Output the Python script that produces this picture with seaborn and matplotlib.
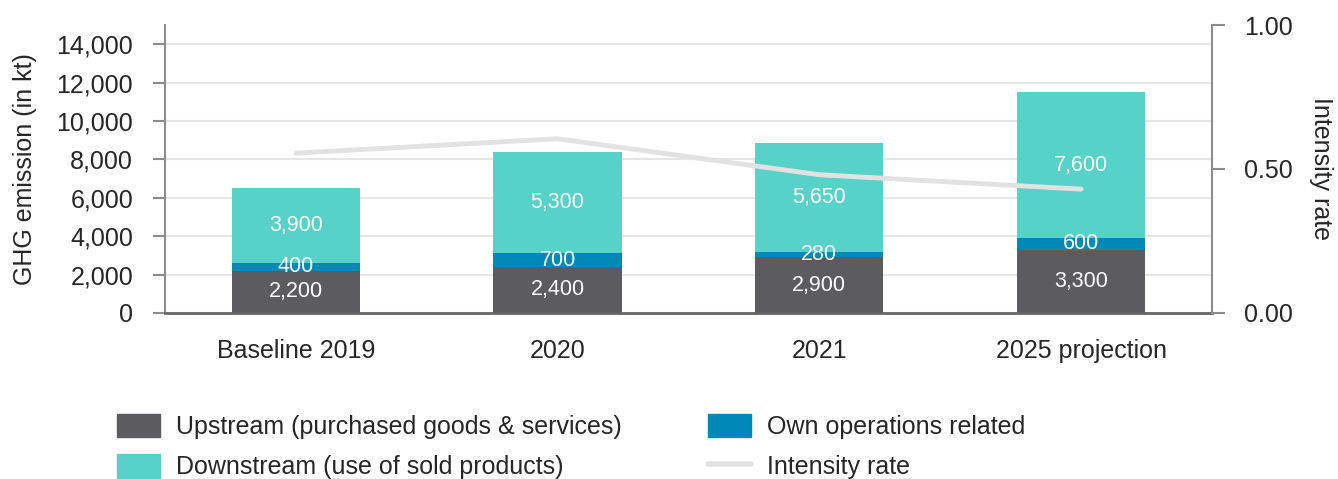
import matplotlib
matplotlib.use("Agg")
import matplotlib.pyplot as plt
import seaborn as sns
import numpy as np
from matplotlib.patches import Patch
from matplotlib.lines import Line2D

# data
categories = ['Baseline 2019', '2020', '2021', '2025 projection']
upstream = [2200, 2400, 2900, 3300]
own_ops = [400, 700, 280, 600]
downstream = [3900, 5300, 5650, 7600]
intensity = [0.555, 0.605, 0.48, 0.43]

c_up = '#5c5c60'
c_own = '#0089b7'
c_down = '#57d2c9'
c_line = '#e2e2e2'

sns.set_style('white')
plt.rcParams['font.family'] = ['Liberation Sans', 'DejaVu Sans']

fig = plt.figure(figsize=(13.38, 4.79), dpi=100)
ax = fig.add_axes([0.1233, 0.3466, 0.7825, 0.6012])

bottom2 = np.array(upstream)
bottom3 = bottom2 + np.array(own_ops)
kw = dict(width=0.49, ax=ax, saturation=1, linewidth=0)
sns.barplot(x=categories, y=upstream, color=c_up, **kw)
sns.barplot(x=categories, y=own_ops, bottom=bottom2, color=c_own, **kw)
sns.barplot(x=categories, y=downstream, bottom=bottom3, color=c_down, **kw)

# segment labels
for i in range(len(categories)):
    segs = [(0, upstream[i]), (bottom2[i], own_ops[i]), (bottom3[i], downstream[i])]
    for b, h in segs:
        ax.text(i, b + h / 2, f'{h:,}', ha='center', va='center', color='white', fontsize=15.5)

ax.set_ylim(0, 15000)
ax.set_xlim(-0.5, 3.5)
ax.set_yticks(range(0, 14001, 2000))
ax.set_yticklabels([f'{v:,}' for v in range(0, 14001, 2000)])
ax.yaxis.grid(True, color='#e6e6e6', linewidth=1.5)
ax.set_axisbelow(True)
ax.set_ylabel('GHG emission (in kt)', fontsize=18, labelpad=14)
ax.tick_params(axis='y', direction='out', length=9, width=1.5, color='#8c8c8c', labelsize=18, pad=14, left=True)
ax.tick_params(axis='x', length=0, labelsize=18, pad=19)
for s in ['top', 'right']:
    ax.spines[s].set_visible(False)
ax.spines['left'].set_color('#8c8c8c')
ax.spines['left'].set_linewidth(1.5)
ax.spines['bottom'].set_color('#666666')
ax.spines['bottom'].set_linewidth(2)

ax2 = ax.twinx()
ax2.plot(np.arange(len(categories)), intensity, color=c_line, linewidth=3.5)
ax2.set_ylim(0, 1)
ax2.set_yticks([0, 0.5, 1.0])
ax2.set_yticklabels(['0.00', '0.50', '1.00'])
ax2.set_ylabel('Intensity rate', fontsize=18, rotation=-90, labelpad=29)
ax2.tick_params(axis='y', direction='out', length=9, width=1.5, color='#8c8c8c', labelsize=18, pad=14, right=True)
for s in ['top', 'left', 'bottom']:
    ax2.spines[s].set_visible(False)
ax2.spines['right'].set_color('#8c8c8c')
ax2.spines['right'].set_linewidth(1.5)

handles = [
    Patch(color=c_up, label='Upstream (purchased goods & services)'),
    Patch(color=c_down, label='Downstream (use of sold products)'),
    Patch(color=c_own, label='Own operations related'),
    Line2D([0], [0], color=c_line, linewidth=4, label='Intensity rate'),
]
fig.legend(handles=handles, ncol=2, loc='lower left', bbox_to_anchor=(0.071, -0.048),
           frameon=False, fontsize=18, handlelength=1.7, handleheight=1.05,
           handletextpad=0.65, columnspacing=3.45, labelspacing=0.6)

fig.savefig('out.png', dpi=100)
